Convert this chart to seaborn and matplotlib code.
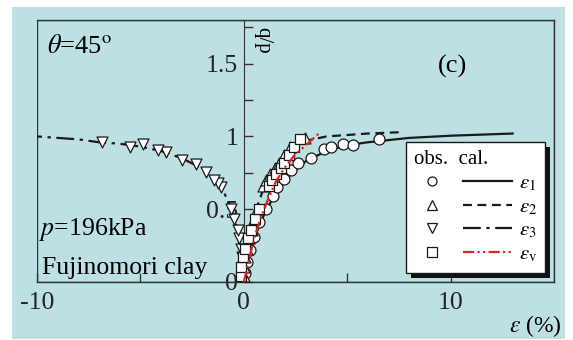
import numpy as np
import seaborn as sns
import matplotlib.pyplot as plt
from matplotlib.patches import Rectangle
from matplotlib.lines import Line2D
from matplotlib.legend_handler import HandlerBase

# observed strains (%) and stress ratio q/p
e1_obs_x = [0.05, 0.15, 0.3, 0.5, 0.75, 1.05, 1.4, 1.6, 1.95, 2.3, 2.6, 3.25, 3.9, 4.2, 4.8, 5.3, 6.55]
e1_obs_y = [0.06, 0.14, 0.22, 0.31, 0.41, 0.50, 0.59, 0.65, 0.71, 0.77, 0.82, 0.85, 0.915, 0.93, 0.95, 0.94, 0.98]
e2_obs_x = [0.0, 0.03, 0.08, 0.15, 0.25, 0.38, 0.5, 0.65, 0.95, 1.08, 1.25, 1.5, 1.7, 1.95, 2.25, 2.95]
e2_obs_y = [0.04, 0.1, 0.17, 0.23, 0.3, 0.36, 0.43, 0.5, 0.66, 0.7, 0.74, 0.78, 0.82, 0.87, 0.93, 0.99]
e3_obs_x = [-0.03, -0.06, -0.1, -0.15, -0.23, -0.3, -0.45, -0.63, -1.11, -1.25, -1.44, -1.84,
            -2.32, -2.97, -3.78, -4.15, -4.88, -5.5, -6.86]
e3_obs_y = [0.04, 0.1, 0.17, 0.23, 0.3, 0.36, 0.43, 0.5, 0.65, 0.68, 0.70, 0.755,
            0.81, 0.84, 0.89, 0.91, 0.945, 0.93, 0.96]
ev_obs_x = [-0.15, -0.12, -0.05, 0.05, 0.2, 0.35, 0.55, 0.75, 1.2, 1.35, 1.55, 1.8, 1.95, 2.2, 2.45, 2.7]
ev_obs_y = [0.04, 0.1, 0.17, 0.23, 0.3, 0.36, 0.43, 0.5, 0.66, 0.7, 0.74, 0.78, 0.82, 0.87, 0.93, 0.98]

# calculated curves
e1_cal_x = [0, 0.2, 0.5, 1, 1.5, 2, 2.5, 3, 4, 5, 6, 8, 10, 13]
e1_cal_y = [0, 0.15, 0.3, 0.47, 0.6, 0.7, 0.77, 0.83, 0.9, 0.94, 0.96, 0.99, 1.005, 1.02]
e2_cal_x = [0, 0.1, 0.3, 0.6, 1, 1.5, 2, 2.5, 3, 4, 5, 6, 7.7]
e2_cal_y = [0, 0.15, 0.3, 0.5, 0.66, 0.78, 0.87, 0.93, 0.97, 1.0, 1.01, 1.02, 1.03]
e3_cal_x = [0, -0.1, -0.3, -0.6, -1, -1.5, -2, -3, -4, -5, -6, -7, -8, -10]
e3_cal_y = [0, 0.15, 0.35, 0.5, 0.63, 0.72, 0.78, 0.85, 0.9, 0.93, 0.95, 0.96, 0.98, 1.0]
ev_cal_x = [0, 0.2, 0.5, 0.8, 1.15, 1.55, 2, 2.45, 3, 3.7]
ev_cal_y = [0, 0.12, 0.3, 0.43, 0.56, 0.69, 0.79, 0.87, 0.94, 1.03]

legend_labels = [r"$\varepsilon_1$", r"$\varepsilon_2$", r"$\varepsilon_3$", r"$\varepsilon_{\rm v}$"]

BG = "#bde0e3"
RED = "#e42320"
INK = "#1a1a1a"
LS_E1 = "-"
LS_E2 = (0, (4, 2.5))
LS_E3 = (0, (8, 2.5, 1.5, 2.5))
LS_EV = (0, (5, 1.5, 1, 1.5, 1, 1.5))

plt.rcParams["font.family"] = "serif"
plt.rcParams["font.serif"] = ["Liberation Serif", "DejaVu Serif"]
plt.rcParams["mathtext.fontset"] = "stix"

fig = plt.figure(figsize=(5.73, 3.40), dpi=100, facecolor="white")
fig.add_artist(Rectangle((12 / 573, 1 / 340), 553 / 573, 332 / 340, transform=fig.transFigure,
                         facecolor=BG, edgecolor="none", zorder=-5))
ax = fig.add_axes([37 / 573, 58 / 340, 517 / 573, 262 / 340])
ax.set_facecolor(BG)

mk = dict(s=62, facecolor="white", edgecolor=INK, linewidth=0.9, zorder=3)
lw = 1.6

# calculated black lines
sns.lineplot(x=e1_cal_x, y=e1_cal_y, ax=ax, color=INK, lw=lw, linestyle=LS_E1,
             sort=False, estimator=None, zorder=2)
sns.lineplot(x=e2_cal_x, y=e2_cal_y, ax=ax, color=INK, lw=lw, linestyle=LS_E2,
             sort=False, estimator=None, zorder=2)
sns.lineplot(x=e3_cal_x, y=e3_cal_y, ax=ax, color=INK, lw=lw, linestyle=LS_E3,
             sort=False, estimator=None, zorder=2)

# observations
sns.scatterplot(x=e3_obs_x, y=e3_obs_y, ax=ax, marker="v", **mk)
sns.scatterplot(x=e1_obs_x, y=e1_obs_y, ax=ax, marker="o", **mk)
sns.scatterplot(x=e2_obs_x, y=e2_obs_y, ax=ax, marker="^", **mk)
sns.scatterplot(x=ev_obs_x, y=ev_obs_y, ax=ax, marker="s", **dict(mk, s=55))

# volumetric curve on top
sns.lineplot(x=ev_cal_x, y=ev_cal_y, ax=ax, color=RED, lw=lw, linestyle=LS_EV,
             sort=False, estimator=None, zorder=4)

ax.set_xlim(-10, 15)
ax.set_ylim(0, 1.8)
ax.set_xlabel("")
ax.set_ylabel("")

# axes frame, y axis at x = 0
for side in ["top", "right", "bottom"]:
    ax.spines[side].set_color("#333333")
    ax.spines[side].set_linewidth(1.0)
ax.spines["left"].set_position(("data", 0))
ax.spines["left"].set_color("#333333")
ax.add_patch(Rectangle((0, 0), 1, 1, transform=ax.transAxes, fill=False,
                       edgecolor="#333333", lw=1.0, zorder=1.5))

ax.set_xticks([-10, 0, 10])
ax.set_xticklabels(["-10", "0", "10"])
ax.set_xticks([-5, 5], minor=True)
ax.set_yticks([0, 0.5, 1, 1.5])
ax.set_yticklabels(["0", "0.5", "1", "1.5"])
ax.set_yticks([0.25, 0.75, 1.25, 1.75], minor=True)
ax.tick_params(axis="both", which="both", direction="in", length=6.5, width=1.0,
               color="#333333", labelsize=18.5, labelcolor="#222222")
ax.tick_params(axis="x", which="major", pad=7)
ax.tick_params(axis="y", which="major", pad=4)

# annotations
ax.text(0.019, 0.874, r"$\theta$=45$^{\rm o}$", transform=ax.transAxes, fontsize=19, va="baseline")
ax.text(0.803, 0.80, "(c)", transform=ax.transAxes, fontsize=19, va="baseline", ha="center")
ax.text(0.004, 0.18, r"$p$=196kPa", transform=ax.transAxes, fontsize=18.5, va="baseline")
ax.text(0.01, 0.03, "Fujinomori clay", transform=ax.transAxes, fontsize=18.5, va="baseline")
ax.text(0.418, 0.975, "q/p", transform=ax.transAxes, fontsize=15, rotation=-90,
        va="top", ha="left")
fig.text(562 / 573, 8 / 340, r"$\varepsilon$ (%)", fontsize=17, ha="right", va="baseline")


class ObsCalHandler(HandlerBase):
    """marker on the left (obs.), line segment on the right (cal.)"""
    def create_artists(self, legend, orig_handle, xdescent, ydescent, width, height, fontsize, trans):
        marker, color, ls = orig_handle
        y = height / 2 - ydescent
        x0 = -xdescent
        m = Line2D([x0 + 0.18 * width], [y], marker=marker, ls="none",
                   markersize=6.5, markerfacecolor="white", markeredgecolor=INK, markeredgewidth=0.9)
        ln = Line2D([x0 + 0.5 * width, x0 + width], [y, y], color=color, lw=lw, linestyle=ls)
        for a in (m, ln):
            a.set_transform(trans)
        return [m, ln]


handles = [("o", INK, LS_E1), ("^", INK, LS_E2), ("v", INK, LS_E3), ("s", RED, LS_EV)]

leg = ax.legend(handles, legend_labels, handler_map={tuple: ObsCalHandler()},
                title="obs.  cal.", title_fontsize=15, fontsize=15, loc="upper left",
                bbox_to_anchor=(0.714, 0.534), borderaxespad=0, frameon=True, fancybox=False,
                framealpha=1, edgecolor=INK, handlelength=4.7, handletextpad=0.3,
                borderpad=0.4, labelspacing=0.2)
leg.get_frame().set_linewidth(1.0)
leg._legend_box.align = "left"
leg.set_zorder(6)

# drop shadow behind the legend box
fig.canvas.draw()
bb = leg.get_window_extent().transformed(ax.transAxes.inverted())
dx = 5 / 517
dy = 5 / 262
ax.add_patch(Rectangle((bb.x0 + dx, bb.y0 - dy), bb.width, bb.height, transform=ax.transAxes,
                       facecolor="#111111", edgecolor="none", zorder=5.5, clip_on=False))

fig.savefig("out.png", dpi=100, facecolor="white")
